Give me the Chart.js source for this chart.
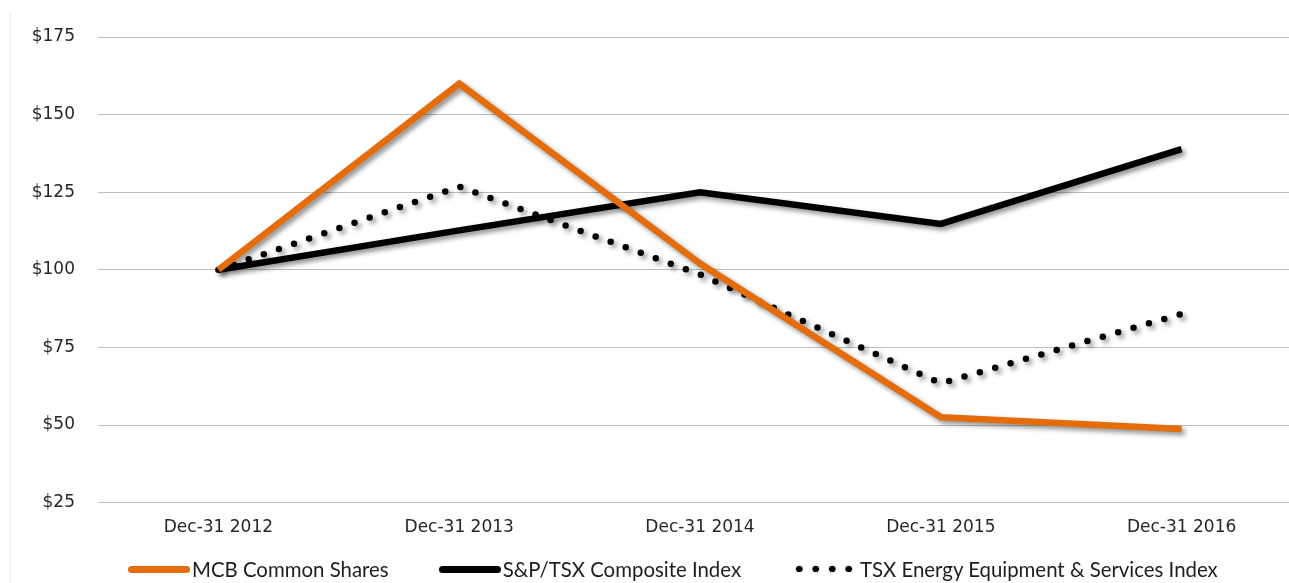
<!DOCTYPE html>
<html>
<head>
<meta charset="utf-8">
<script src="https://cdn.jsdelivr.net/npm/chart.js@4.4.1/dist/chart.umd.min.js"></script>
<style>
  html, body { margin: 0; padding: 0; background: #fff; overflow: hidden; }
  #wrap { position: relative; width: 1302px; height: 583px; }
  #edge { position: absolute; left: 10px; top: 12px; width: 1px; height: 571px; background: #ececec; }
  #legend { position: absolute; left: 128px; top: 557px; display: flex; align-items: center;
            font-family: Lato, "DejaVu Sans", sans-serif; font-size: 20.4px; color: #1e1e1e; white-space: nowrap; }
  #legend .item { display: flex; align-items: center; margin-right: 50px; }
  #legend .swatch { width: 62px; height: 7px; margin-right: 2px; border-radius: 3.5px; }
  #legend .dots { height: 8px; border-radius: 0; margin-right: 7px;
                  background: radial-gradient(circle, #000 3px, rgba(0,0,0,0) 3.6px) 0 0 / 16.5px 8px repeat-x; }
</style>
</head>
<body>
<div id="wrap">
  <canvas id="perfChart" width="1302" height="583"></canvas>
  <div id="edge"></div>
  <div id="legend"></div>
</div>
<script>
var categories = ["Dec-31 2012", "Dec-31 2013", "Dec-31 2014", "Dec-31 2015", "Dec-31 2016"];
var mcbShares = [100, 160, 102, 52.5, 48.7];
var tsxComposite = [100, 112.7, 125, 114.8, 138.9];
var tsxEnergy = [100, 126.8, 98.5, 63.4, 85.8];
var yTicks = [25, 50, 75, 100, 125, 150, 175];

var orange = "#e46c0a";

// soft drop shadow under each line, like the original
var shadowPlugin = {
  id: "lineShadow",
  beforeDatasetDraw: function(chart) {
    var ctx = chart.ctx;
    ctx.save();
    ctx.shadowColor = "rgba(0,0,0,0.45)";
    ctx.shadowBlur = 5;
    ctx.shadowOffsetX = 3;
    ctx.shadowOffsetY = 3;
  },
  afterDatasetDraw: function(chart) {
    chart.ctx.restore();
  }
};

var ctx = document.getElementById("perfChart");
var chart = new Chart(ctx, {
  type: "line",
  data: {
    labels: categories,
    datasets: [
      {
        label: "MCB Common Shares",
        data: mcbShares,
        borderColor: orange,
        backgroundColor: orange,
        borderWidth: 6.5,
        pointRadius: 0,
        tension: 0
      },
      {
        label: "S&P/TSX Composite Index",
        data: tsxComposite,
        borderColor: "#000",
        backgroundColor: "#000",
        borderWidth: 6.5,
        pointRadius: 0,
        tension: 0
      },
      {
        label: "TSX Energy Equipment & Services Index",
        data: tsxEnergy,
        borderColor: "#000",
        backgroundColor: "#000",
        borderWidth: 6.5,
        borderDash: [0, 16],
        borderCapStyle: "round",
        pointRadius: 0,
        tension: 0
      }
    ]
  },
  options: {
    responsive: false,
    animation: false,
    layout: { padding: { top: 37, left: 0, right: 0, bottom: 30 } },
    scales: {
      x: {
        offset: true,
        grid: { display: false, drawTicks: false },
        border: { display: false },
        ticks: {
          color: "#262626",
          padding: 15,
          font: { family: "DejaVu Sans", size: 17 }
        }
      },
      y: {
        min: 25,
        max: 175,
        afterBuildTicks: function(scale) {
          scale.ticks = yTicks.map(function(v) { return { value: v }; });
        },
        afterFit: function(scale) { scale.width = 98; },
        grid: { color: "#bdbdbd", lineWidth: 1, drawTicks: false },
        border: { display: false },
        ticks: {
          color: "#262626",
          padding: 23,
          font: { family: "DejaVu Sans", size: 17 },
          callback: function(v) { return "$" + v; }
        }
      }
    },
    plugins: {
      tooltip: { enabled: false },
      legend: { display: false }
    }
  },
  plugins: [shadowPlugin]
});

// html legend built from the datasets
var legend = document.getElementById("legend");
chart.data.datasets.forEach(function(ds) {
  var item = document.createElement("div");
  item.className = "item";
  var sw = document.createElement("span");
  sw.className = "swatch" + (ds.borderDash ? " dots" : "");
  if (!ds.borderDash) sw.style.background = ds.borderColor;
  var txt = document.createElement("span");
  txt.textContent = ds.label;
  item.appendChild(sw);
  item.appendChild(txt);
  legend.appendChild(item);
});
</script>
</body>
</html>
